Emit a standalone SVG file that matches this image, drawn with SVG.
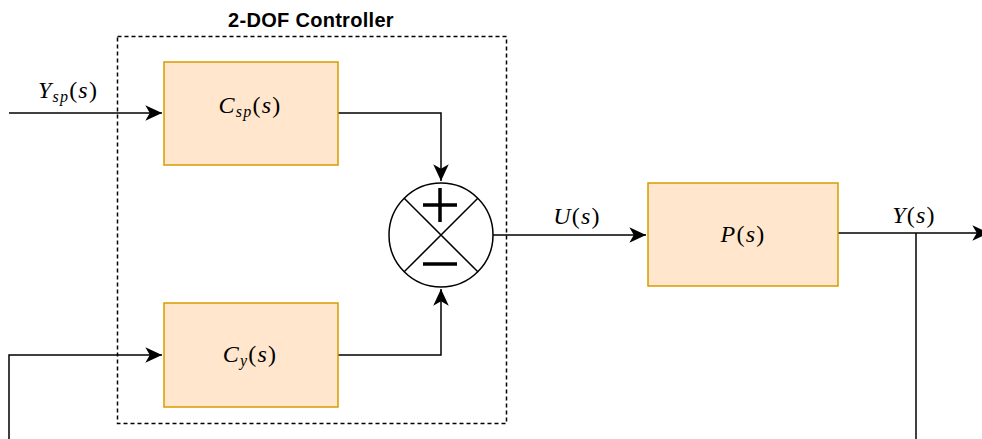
<svg xmlns="http://www.w3.org/2000/svg" width="982" height="439" viewBox="0 0 982 439">
<style>
.blk{fill:#ffe6cc;stroke:#d79b00;stroke-width:1.5}
.wire{fill:none;stroke:#000;stroke-width:1.5}
.math{font-family:"Liberation Serif","Times New Roman",serif;font-size:24px;fill:#000;letter-spacing:1.2px}
.it{font-style:italic}
.sub{font-style:italic;font-size:16px}
.title{font-family:"Liberation Sans",Arial,sans-serif;font-weight:bold;font-size:20px;fill:#000}
</style>
<defs>
<marker id="arr" markerUnits="userSpaceOnUse" markerWidth="20" markerHeight="20" viewBox="-16 -8 18 16" refX="0" refY="0" orient="auto">
<path d="M0,0 L-15,-7 L-11,0 L-15,7 Z" fill="#000"/>
</marker>
</defs>
<rect width="982" height="439" fill="#fff"/>
<g id="controller-group">
<rect x="117.5" y="36.5" width="389" height="387" fill="none" stroke="#000" stroke-width="1.5" stroke-dasharray="4 3"/>
<text class="title" x="311" y="27" text-anchor="middle" letter-spacing="0.3">2-DOF Controller</text>
</g>
<g id="connectors">
<path class="wire" d="M9,113 H162" marker-end="url(#arr)"/>
<path class="wire" d="M338,113 H441 V181" marker-end="url(#arr)"/>
<path class="wire" d="M9,439 V355 H162" marker-end="url(#arr)"/>
<path class="wire" d="M338,355 H441 V289" marker-end="url(#arr)"/>
<path class="wire" d="M493,235 H646" marker-end="url(#arr)"/>
<path class="wire" d="M838,233 H989" marker-end="url(#arr)"/>
<path class="wire" d="M916,233 V439"/>
<text class="math" x="68" y="98" text-anchor="middle"><tspan class="it">Y</tspan><tspan class="sub" dy="4">sp</tspan><tspan dy="-4">(</tspan><tspan class="it">s</tspan>)</text>
<text class="math" x="577" y="224" text-anchor="middle"><tspan class="it">U</tspan>(<tspan class="it">s</tspan>)</text>
<text class="math" x="914" y="223" text-anchor="middle"><tspan class="it">Y</tspan>(<tspan class="it">s</tspan>)</text>
</g>
<g id="Csp">
<rect class="blk" x="164" y="62" width="174" height="103"/>
<text class="math" x="250" y="113" text-anchor="middle"><tspan class="it">C</tspan><tspan class="sub" dy="4">sp</tspan><tspan dy="-4">(</tspan><tspan class="it">s</tspan>)</text>
</g>
<g id="Cy">
<rect class="blk" x="164" y="303" width="174" height="104"/>
<text class="math" x="250" y="362" text-anchor="middle"><tspan class="it">C</tspan><tspan class="sub" dy="4">y</tspan><tspan dy="-4">(</tspan><tspan class="it">s</tspan>)</text>
</g>
<g id="sum">
<circle cx="441" cy="235" r="52" fill="#fff" stroke="#000" stroke-width="1.5"/>
<path d="M404.2,198.2 L477.8,271.8 M477.8,198.2 L404.2,271.8" stroke="#000" stroke-width="1.5"/>
<path d="M423,205 H457 M440,188 V222 M423,264 H457" stroke="#000" stroke-width="3.5"/>
</g>
<g id="P">
<rect class="blk" x="648" y="183" width="190" height="103"/>
<text class="math" x="743" y="242" text-anchor="middle"><tspan class="it">P</tspan>(<tspan class="it">s</tspan>)</text>
</g>
</svg>
